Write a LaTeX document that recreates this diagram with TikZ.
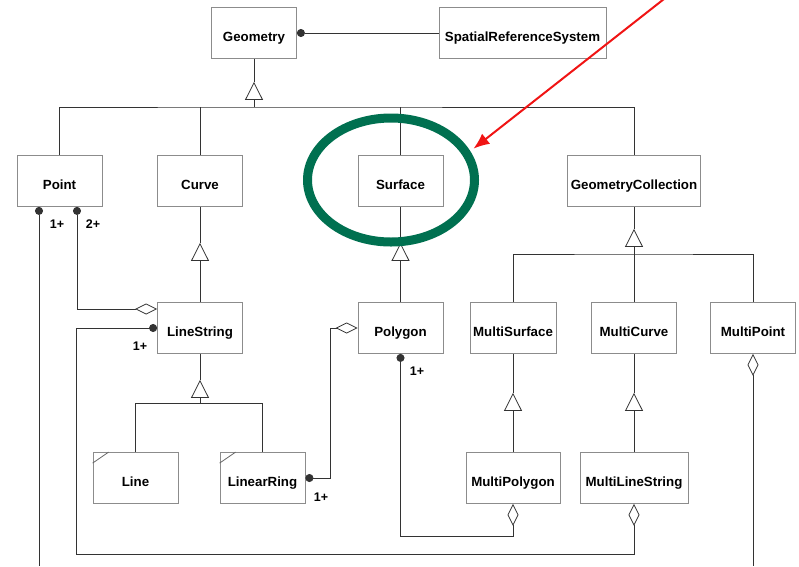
\documentclass[tikz,border=0pt]{standalone}
\usepackage{fontspec}
\setmainfont{Liberation Sans}
\usetikzlibrary{arrows.meta,shapes.geometric}
\definecolor{hlgreen}{RGB}{0,112,80}
\definecolor{callred}{RGB}{240,20,20}

\begin{document}
\begin{tikzpicture}[x=1pt,y=-1pt,line width=0.8pt,font=\bfseries\fontsize{13.3}{15}\selectfont]
  \tikzstyle{class} = [draw=black!45, rectangle, minimum width=85pt, minimum height=51pt, inner xsep=3pt, text height=17pt, text depth=0pt]
  \tikzstyle{link} = [draw=black!80]
  \tikzstyle{gen} = [-{Triangle[open,length=18pt,width=18pt]}]
  \tikzstyle{onedot} = [{Circle[length=8pt]}-]
  \tikzstyle{dotagg} = [{Circle[length=8pt]}-{Diamond[open,length=22pt,width=11pt]}]
  \tikzstyle{aggstart} = [{Diamond[open,length=22pt,width=11pt]}-]
  \tikzstyle{mult} = [font=\bfseries\fontsize{12.5}{14}\selectfont]
  \tikzstyle{callout} = [draw=callred, line width=2pt, -{Latex[length=16pt,width=13pt]}, shorten >=4pt]
  \useasboundingbox (0,0) rectangle (799,566);

  \node[class] (Geometry) at (254,33) {Geometry};
  \node[class, minimum width=167pt] (SRS) at (522.5,33) {SpatialReferenceSystem};
  \node[class] (Point) at (59.5,181) {Point};
  \node[class] (Curve) at (200,181) {Curve};
  \node[class] (Surface) at (400.5,181) {Surface};
  \node[class, minimum width=133pt] (GeometryCollection) at (634,181) {GeometryCollection};
  \node[class] (LineString) at (200,328) {LineString};
  \node[class] (Polygon) at (400.5,328) {Polygon};
  \node[class] (MultiSurface) at (513,328) {MultiSurface};
  \node[class] (MultiCurve) at (634,328) {MultiCurve};
  \node[class] (MultiPoint) at (753,328) {MultiPoint};
  \node[class] (Line) at (135.5,478) {Line};
  \node[class] (LinearRing) at (262.5,478) {LinearRing};
  \node[class, minimum width=94pt] (MultiPolygon) at (513,478) {MultiPolygon};
  \node[class, minimum width=108pt] (MultiLineString) at (634,478) {MultiLineString};

  \draw[black!60] ([yshift=-11pt]Line.north west) -- ([xshift=16pt]Line.north west);
  \draw[black!60] ([yshift=-11pt]LinearRing.north west) -- ([xshift=16pt]LinearRing.north west);

  \coordinate (geobus) at (254,107);
  \coordinate (lsbus) at (200,403);
  \coordinate (gcbus) at (634,254);
  \coordinate (lsturn) at (76,554);
  \coordinate (pointend) at (39,566);

  \draw[link] (Geometry.south) -- ++(0,23) coordinate (geotip);
  \draw[link,gen] (geobus) -- (geotip);
  \draw[link] (Point.north) |- (geobus) -| (GeometryCollection.north);
  \draw[link] (Curve.north) -- (Curve.north |- geobus);
  \draw[link] (Surface.north) -- (Surface.north |- geobus);

  \draw[link] (Curve.south) -- ++(0,36) coordinate (cvtip);
  \draw[link,gen] (LineString.north) -- (cvtip);
  \draw[link] (Surface.south) -- ++(0,36) coordinate (sftip);
  \draw[link,gen] (Polygon.north) -- (sftip);

  \draw[link] (LineString.south) -- ++(0,26) coordinate (lstip);
  \draw[link,gen] (lsbus) -- (lstip);
  \draw[link] (Line.north) |- (lsbus) -| (LinearRing.north);

  \draw[link] (GeometryCollection.south) -- ++(0,22) coordinate (gctip);
  \draw[link,gen] (gcbus) -- (gctip);
  \draw[link] (MultiSurface.north) |- (gcbus) -| (MultiPoint.north);
  \draw[link] (MultiCurve.north) -- (MultiCurve.north |- gcbus);

  \draw[link] (MultiSurface.south) -- ++(0,39) coordinate (mstip);
  \draw[link,gen] (MultiPolygon.north) -- (mstip);
  \draw[link] (MultiCurve.south) -- ++(0,39) coordinate (mctip);
  \draw[link,gen] (MultiLineString.north) -- (mctip);

  \draw[link,onedot] (Geometry.east) -- (SRS.west);
  \draw[link,onedot] ([xshift=-20.5pt]Point.south) -- (pointend);
  \draw[link,dotagg] ([xshift=17.5pt]Point.south) |- ([yshift=19pt]LineString.west);
  \draw[link,dotagg] (LineString.west) -| (lsturn) -| (MultiLineString.south);
  \draw[link,dotagg] (LinearRing.east) -| ([xshift=-27pt]Polygon.west) -- (Polygon.west);
  \draw[link,dotagg] (Polygon.south) |- ([yshift=-32pt]MultiPolygon.south) -- (MultiPolygon.south);
  \draw[link,aggstart] (MultiPoint.south) -- (MultiPoint.south |- pointend);

  \node[mult] (m1) at (57,224) {1+};
  \node[mult] (m2) at (93,224) {2+};
  \node[mult] (m3) at (140,346) {1+};
  \node[mult] (m4) at (321,497) {1+};
  \node[mult] (m5) at (417,371) {1+};

  \node[ellipse, draw=hlgreen, line width=9pt, minimum width=167pt, minimum height=124pt] (focus) at (391,180) {};
  \coordinate (pointer) at (664,-1);
  \draw[callout] (pointer) -- (focus.20);
\end{tikzpicture}
\end{document}
